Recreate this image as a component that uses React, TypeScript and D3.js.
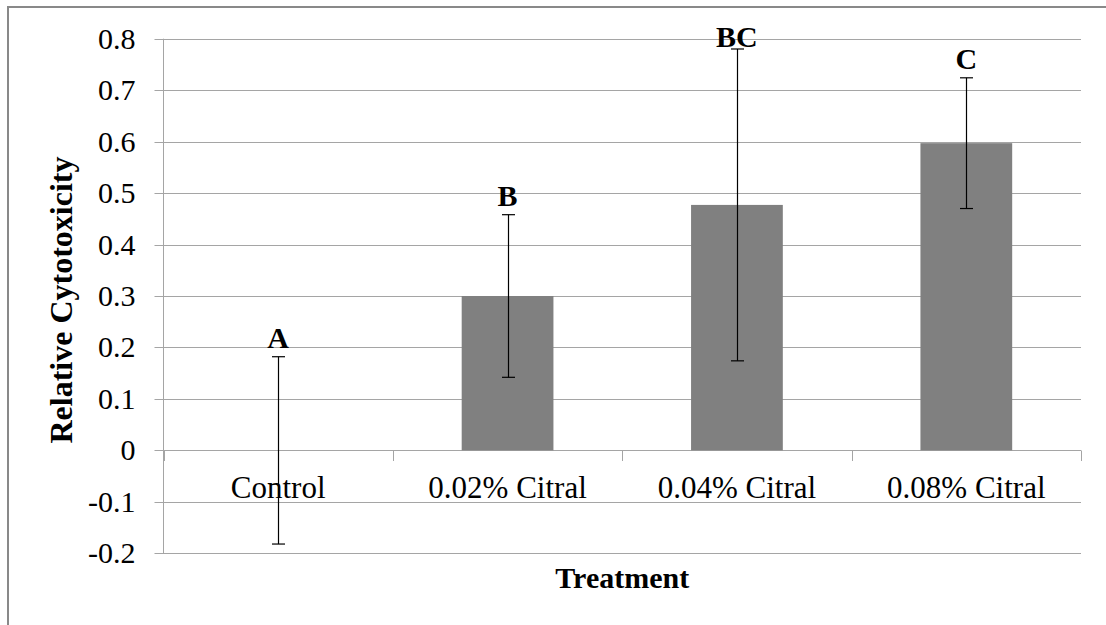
import React from "react";
import * as d3 from "d3";

const categories = ["Control", "0.02% Citral", "0.04% Citral", "0.08% Citral"];
const means = [0, 0.3, 0.477, 0.597];
const errors = [0.182, 0.158, 0.303, 0.127];
const letters = ["A", "B", "BC", "C"];
const yTickValues = [-0.2, -0.1, 0, 0.1, 0.2, 0.3, 0.4, 0.5, 0.6, 0.7, 0.8];
const yTickLabels = ["-0.2", "-0.1", "0", "0.1", "0.2", "0.3", "0.4", "0.5", "0.6", "0.7", "0.8"];
const xTitle = "Treatment";
const yTitle = "Relative Cytotoxicity";

const W = 1106;
const H = 625;
const plotLeft = 163.5;
const plotRight = 1081;
const plotTop = 38.7;
const plotBottom = 553.3;
const FONT = "Liberation Serif, Tinos, Times New Roman, DejaVu Serif, serif";
const FS = 30;

export default function App() {
  const x = d3.scaleBand<string>().domain(categories).range([plotLeft, plotRight]).padding(0);
  const y = d3.scaleLinear().domain([-0.2, 0.8]).range([plotBottom, plotTop]);
  const bw = x.bandwidth();
  const barW = bw * 0.4;
  const y0 = y(0);
  const boundaries = d3.range(categories.length + 1).map((i) => plotLeft + i * bw);
  const gridColor = "#a5a5a5";
  const txt = { fontFamily: FONT, fontSize: FS } as React.CSSProperties;
  const catTxt = { fontFamily: FONT, fontSize: 31 } as React.CSSProperties;
  const bold = { fontFamily: FONT, fontSize: FS, fontWeight: 700 } as React.CSSProperties;
  const yTitleStyle = { fontFamily: FONT, fontSize: 32, fontWeight: 700 } as React.CSSProperties;

  return (
    <svg width={W} height={H} style={{ position: "absolute", left: 0, top: 0, background: "#fff" }}>
      <rect x={8} y={7} width={W + 20} height={H + 20} fill="#fff" stroke="#898989" strokeWidth={2} />
      {yTickValues.map((v, i) => (
        <line key={"g" + i} x1={plotLeft - 9} x2={plotRight} y1={Math.round(y(v)) + 0.5} y2={Math.round(y(v)) + 0.5} stroke={gridColor} strokeWidth={1} />
      ))}
      <line x1={plotLeft} x2={plotLeft} y1={y(0.8)} y2={y(-0.2)} stroke={gridColor} strokeWidth={1} />
      {boundaries.map((bx, i) => (
        <line key={"xt" + i} x1={Math.round(bx) + 0.5} x2={Math.round(bx) + 0.5} y1={Math.round(y0) + 0.5} y2={Math.round(y0) + 11} stroke={gridColor} strokeWidth={1} />
      ))}
      {categories.map((c, i) => {
        const cx = (x(c) as number) + bw / 2;
        const top = y(Math.max(0, means[i]));
        const bot = y(Math.min(0, means[i]));
        return bot - top > 0 ? (
          <rect key={"b" + i} x={cx - barW / 2} y={top} width={barW} height={bot - top} fill="#808080" />
        ) : null;
      })}
      {categories.map((c, i) => {
        const cx = Math.round((x(c) as number) + bw / 2) + 0.5;
        const yt = y(means[i] + errors[i]);
        const yb = y(means[i] - errors[i]);
        return (
          <g key={"e" + i} stroke="#000" strokeWidth={1.2}>
            <line x1={cx} x2={cx} y1={yt} y2={yb} />
            <line x1={cx - 6.5} x2={cx + 6.5} y1={yt} y2={yt} />
            <line x1={cx - 6.5} x2={cx + 6.5} y1={yb} y2={yb} />
          </g>
        );
      })}
      {categories.map((c, i) => {
        const cx = (x(c) as number) + bw / 2;
        const yt = y(means[i] + errors[i]);
        const by = Math.max(yt - 9, plotTop + 8);
        return (
          <text key={"l" + i} x={cx} y={by} textAnchor="middle" style={bold} fill="#000">
            {letters[i]}
          </text>
        );
      })}
      {yTickValues.map((v, i) => (
        <text key={"yl" + i} x={plotLeft - 28} y={y(v) + 10} textAnchor="end" style={txt} fill="#000">
          {yTickLabels[i]}
        </text>
      ))}
      {categories.map((c, i) => (
        <text key={"xl" + i} x={(x(c) as number) + bw / 2} y={y0 + 48} textAnchor="middle" style={catTxt} fill="#000">
          {c}
        </text>
      ))}
      <text x={(plotLeft + plotRight) / 2} y={588} textAnchor="middle" style={bold} fill="#000">
        {xTitle}
      </text>
      <text transform={`translate(72, 300) rotate(-90)`} textAnchor="middle" style={yTitleStyle} fill="#000">
        {yTitle}
      </text>
    </svg>
  );
}
